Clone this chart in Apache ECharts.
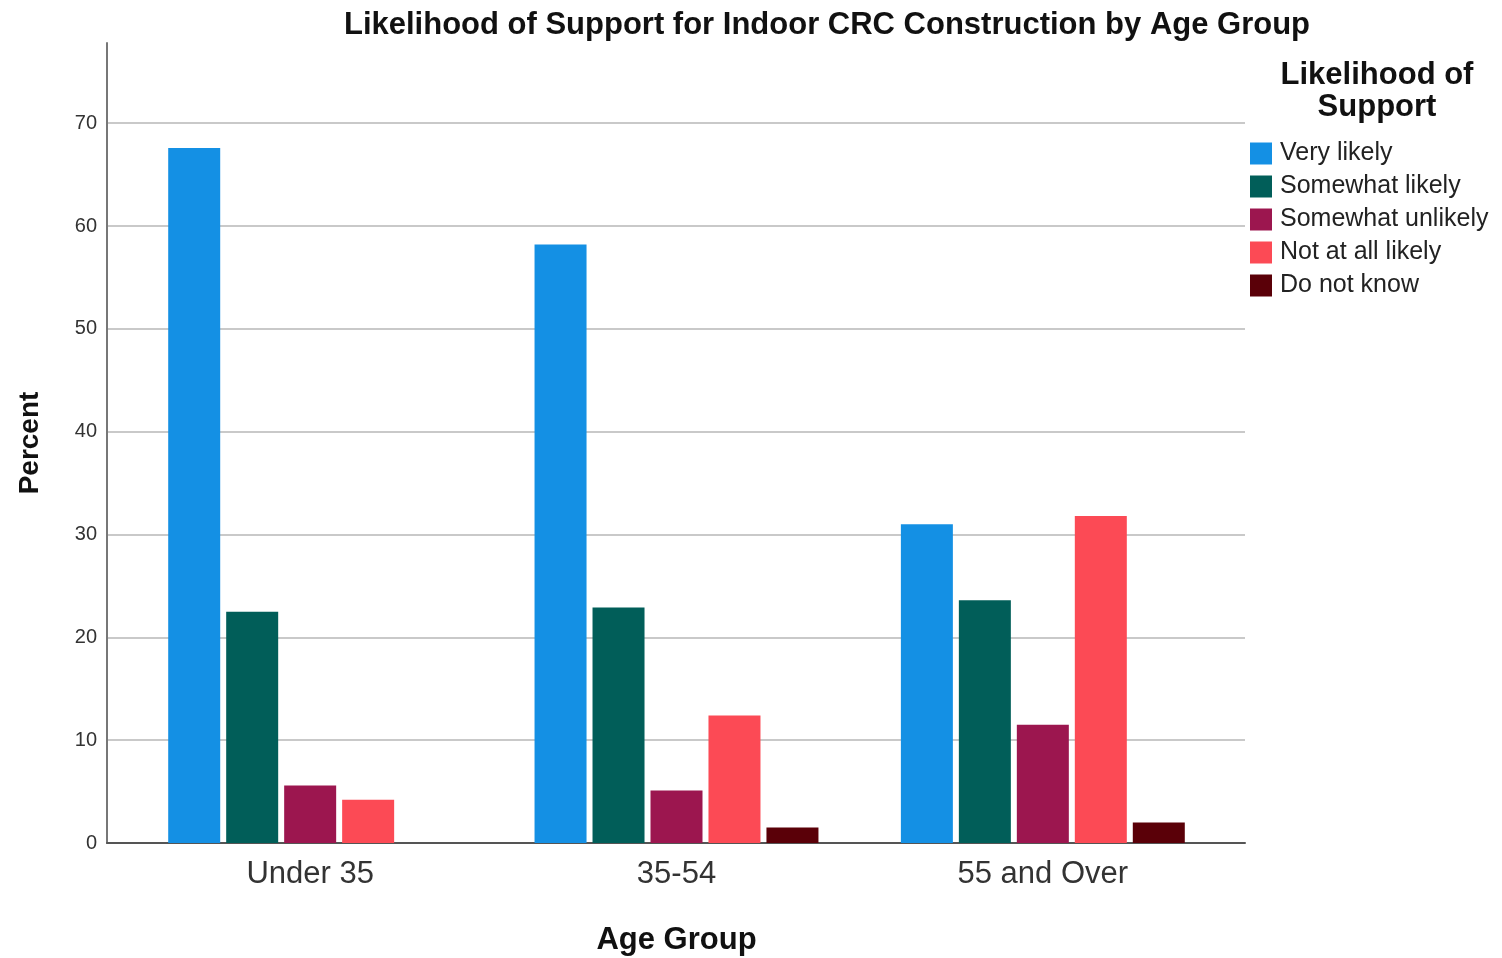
<!DOCTYPE html>
<html><head><meta charset="utf-8">
<script src="https://cdn.jsdelivr.net/npm/echarts@6/dist/echarts.min.js"></script>
<style>html,body{margin:0;padding:0;background:#fff}#c{width:1502px;height:958px}</style>
</head><body><div id="c"></div>
<script>
const categories = ['Under 35', '35-54', '55 and Over'];
const seriesNames = ['Very likely', 'Somewhat likely', 'Somewhat unlikely', 'Not at all likely', 'Do not know'];
const veryLikely = [67.6, 58.2, 31.0];
const somewhatLikely = [22.5, 22.9, 23.6];
const somewhatUnlikely = [5.6, 5.1, 11.5];
const notAtAllLikely = [4.2, 12.4, 31.8];
const doNotKnow = [null, 1.5, 2.0];
const colors = ['#1490E4', '#015E59', '#9C164F', '#FC4A55', '#5A0008'];
const yMax = 77.8;

const values = [veryLikely, somewhatLikely, somewhatUnlikely, notAtAllLikely, doNotKnow];
const font = 'Liberation Sans, Arial, sans-serif';

const chart = echarts.init(document.getElementById('c'));
chart.setOption({
  animation: false,
  color: colors,
  title: [
    {text: 'Likelihood of Support for Indoor CRC Construction by Age Group', left: 822, top: 5, textAlign: 'center',
     textStyle: {fontFamily: font, fontWeight: 'bold', fontSize: 31, color: '#111'}},
    {text: 'Likelihood of\nSupport', left: 1372, top: 54, textAlign: 'center',
     textStyle: {fontFamily: font, fontWeight: 'bold', fontSize: 31, lineHeight: 32, color: '#111'}}
  ],
  legend: {
    orient: 'vertical', left: 1250, top: 141, itemWidth: 22, itemHeight: 22, itemGap: 8, padding: 0,
    icon: 'rect', data: seriesNames,
    textStyle: {fontFamily: font, fontSize: 25, color: '#222', padding: [0,0,0,3]}
  },
  grid: [
    {left: 127, right: 276, top: 43, bottom: 115, outerBoundsMode: 'none'},
    {left: 107, right: 257, top: 43, bottom: 115, outerBoundsMode: 'none'}
  ],
  xAxis: [
    {type: 'category', gridIndex: 0, data: categories,
     axisLine: {show: false}, axisTick: {show: false},
     axisLabel: {fontFamily: font, fontSize: 31, color: '#333', margin: 16},
     name: 'Age Group', nameLocation: 'middle', nameGap: 82, nameMoveOverlap: false,
     nameTextStyle: {fontFamily: font, fontWeight: 'bold', fontSize: 31, color: '#111'}},
    {type: 'value', gridIndex: 1, min: 0, max: 1, show: true,
     axisLine: {show: true, onZero: false, lineStyle: {color: '#555', width: 2}},
     axisTick: {show: false}, axisLabel: {show: false}, splitLine: {show: false}}
  ],
  yAxis: [
    {type: 'value', gridIndex: 0, min: 0, max: yMax, show: false, splitLine: {show: false}},
    {type: 'value', gridIndex: 1, min: 0, max: yMax, interval: 10,
     axisLine: {show: true, lineStyle: {color: '#777', width: 2}},
     axisTick: {show: false},
     axisLabel: {fontFamily: font, fontSize: 20, color: '#333', margin: 10, showMaxLabel: false},
     splitLine: {show: true, showMaxLine: false, lineStyle: {color: '#c9c9c9', width: 2}},
     name: 'Percent', nameLocation: 'middle', nameGap: 63, nameRotate: 90, nameMoveOverlap: false,
     nameTextStyle: {fontFamily: font, fontWeight: 'bold', fontSize: 28, color: '#111'}}
  ],
  series: seriesNames.map((n, i) => ({
    name: n, type: 'bar', xAxisIndex: 0, yAxisIndex: 0,
    data: values[i], barWidth: 52, barGap: '11.5%',
    itemStyle: {color: colors[i]}
  }))
});
</script></body></html>
